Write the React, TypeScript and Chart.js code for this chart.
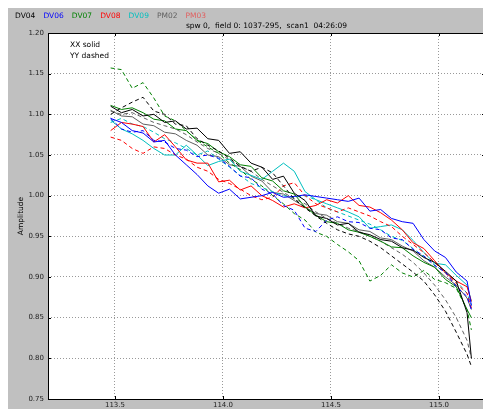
import { useEffect, useRef } from "react";
import { Chart, registerables } from "chart.js";
Chart.register(...registerables);

const freqs = [113.48, 113.53, 113.58, 113.63, 113.68, 113.73, 113.78, 113.83, 113.88, 113.93, 113.98, 114.03, 114.08, 114.13, 114.18, 114.23, 114.28, 114.33, 114.38, 114.43, 114.48, 114.53, 114.58, 114.63, 114.68, 114.73, 114.78, 114.83, 114.88, 114.93, 114.98, 115.03, 115.08, 115.13, 115.15];

const dv04XX = [1.110, 1.102, 1.106, 1.098, 1.100, 1.090, 1.092, 1.082, 1.083, 1.070, 1.068, 1.052, 1.054, 1.040, 1.035, 1.020, 1.024, 1.003, 0.994, 0.975, 0.972, 0.964, 0.966, 0.955, 0.952, 0.946, 0.944, 0.936, 0.933, 0.924, 0.918, 0.907, 0.895, 0.856, 0.800];
const dv04YY = [1.100, 1.108, 1.115, 1.121, 1.104, 1.100, 1.088, 1.086, 1.070, 1.062, 1.055, 1.046, 1.036, 1.030, 1.035, 1.028, 1.012, 0.996, 0.985, 0.975, 0.966, 0.958, 0.953, 0.950, 0.944, 0.936, 0.926, 0.916, 0.906, 0.895, 0.878, 0.858, 0.832, 0.805, 0.790];
const dv06XX = [1.095, 1.090, 1.080, 1.077, 1.066, 1.068, 1.050, 1.038, 1.026, 1.012, 1.003, 1.008, 0.996, 0.998, 1.000, 1.004, 0.998, 0.999, 1.001, 0.999, 0.997, 0.995, 0.993, 0.997, 0.981, 0.983, 0.972, 0.968, 0.966, 0.946, 0.932, 0.924, 0.906, 0.895, 0.865];
const dv06YY = [1.095, 1.082, 1.078, 1.080, 1.068, 1.066, 1.058, 1.056, 1.048, 1.050, 1.046, 1.036, 1.024, 1.022, 1.008, 1.002, 0.988, 0.982, 0.960, 0.956, 0.970, 0.974, 0.968, 0.967, 0.960, 0.958, 0.948, 0.946, 0.934, 0.926, 0.914, 0.906, 0.888, 0.876, 0.860];
const dv07XX = [1.111, 1.106, 1.108, 1.102, 1.094, 1.092, 1.082, 1.080, 1.068, 1.064, 1.054, 1.048, 1.038, 1.036, 1.022, 1.018, 1.006, 1.002, 0.986, 0.976, 0.968, 0.966, 0.958, 0.955, 0.950, 0.944, 0.937, 0.936, 0.926, 0.918, 0.912, 0.897, 0.888, 0.860, 0.850];
const dv07YY = [1.157, 1.155, 1.132, 1.139, 1.120, 1.098, 1.092, 1.080, 1.068, 1.060, 1.052, 1.040, 1.032, 1.020, 1.012, 1.000, 0.990, 0.978, 0.970, 0.955, 0.950, 0.940, 0.931, 0.920, 0.895, 0.902, 0.915, 0.905, 0.900, 0.908, 0.897, 0.893, 0.886, 0.860, 0.835];
const dv08XX = [1.080, 1.090, 1.088, 1.085, 1.066, 1.075, 1.060, 1.044, 1.040, 1.040, 1.017, 1.019, 1.007, 1.012, 1.000, 0.994, 0.986, 0.990, 0.985, 0.988, 0.995, 0.991, 1.000, 0.988, 0.986, 0.979, 0.970, 0.958, 0.942, 0.935, 0.920, 0.905, 0.895, 0.888, 0.870];
const dv08YY = [1.072, 1.068, 1.058, 1.052, 1.060, 1.058, 1.050, 1.045, 1.035, 1.030, 1.020, 1.015, 1.008, 1.000, 0.995, 0.998, 1.012, 1.016, 1.000, 0.990, 0.985, 0.980, 0.985, 0.980, 0.975, 0.968, 0.962, 0.950, 0.940, 0.930, 0.918, 0.905, 0.892, 0.880, 0.862];
const dv09XX = [1.093, 1.082, 1.076, 1.068, 1.058, 1.050, 1.050, 1.062, 1.050, 1.037, 1.042, 1.045, 1.030, 1.025, 1.020, 1.030, 1.040, 1.030, 1.005, 0.995, 0.990, 0.985, 0.980, 0.974, 0.960, 0.962, 0.964, 0.958, 0.945, 0.930, 0.917, 0.915, 0.902, 0.890, 0.870];
const dv09YY = [1.090, 1.095, 1.088, 1.085, 1.078, 1.070, 1.065, 1.058, 1.050, 1.055, 1.045, 1.035, 1.025, 1.015, 1.010, 1.005, 1.000, 0.998, 1.000, 0.995, 0.985, 0.980, 0.975, 0.970, 0.965, 0.958, 0.950, 0.945, 0.935, 0.925, 0.915, 0.905, 0.895, 0.880, 0.865];
const pm02XX = [1.105, 1.098, 1.097, 1.088, 1.086, 1.078, 1.076, 1.068, 1.062, 1.050, 1.048, 1.038, 1.036, 1.024, 1.018, 1.004, 1.002, 0.994, 0.986, 0.978, 0.976, 0.968, 0.966, 0.958, 0.956, 0.948, 0.946, 0.938, 0.932, 0.920, 0.912, 0.900, 0.890, 0.874, 0.860];
const pm02YY = [1.104, 1.100, 1.102, 1.096, 1.090, 1.086, 1.082, 1.075, 1.066, 1.058, 1.052, 1.044, 1.036, 1.030, 1.020, 1.012, 1.004, 0.996, 0.990, 0.980, 0.972, 0.966, 0.960, 0.956, 0.950, 0.944, 0.936, 0.928, 0.918, 0.905, 0.890, 0.872, 0.850, 0.822, 0.800];

const antennas = ["DV04", "DV06", "DV07", "DV08", "DV09", "PM02", "PM03"];
const antennaColors = ["#000000", "#0000ff", "#008000", "#ff0000", "#00bfbf", "#606060", "#e06060"];

const xTicks = [113.5, 114.0, 114.5, 115.0];
const yTicks = [0.75, 0.8, 0.85, 0.9, 0.95, 1.0, 1.05, 1.1, 1.15, 1.2];

const titleText = "spw 0,  field 0: 1037-295,  scan1  04:26:09";
const xTitle = "TOPO USB Frequency (GHz)";
const yTitle = "Amplitude";
const notes = ["XX solid", "YY dashed"];

const FONT = '"DejaVu Sans", sans-serif';

const seriesList = [
  { name: "DV04 XX", values: dv04XX, color: antennaColors[0], dashed: false },
  { name: "DV04 YY", values: dv04YY, color: antennaColors[0], dashed: true },
  { name: "DV06 XX", values: dv06XX, color: antennaColors[1], dashed: false },
  { name: "DV06 YY", values: dv06YY, color: antennaColors[1], dashed: true },
  { name: "DV07 XX", values: dv07XX, color: antennaColors[2], dashed: false },
  { name: "DV07 YY", values: dv07YY, color: antennaColors[2], dashed: true },
  { name: "DV08 XX", values: dv08XX, color: antennaColors[3], dashed: false },
  { name: "DV08 YY", values: dv08YY, color: antennaColors[3], dashed: true },
  { name: "DV09 XX", values: dv09XX, color: antennaColors[4], dashed: false },
  { name: "DV09 YY", values: dv09YY, color: antennaColors[4], dashed: true },
  { name: "PM02 XX", values: pm02XX, color: antennaColors[5], dashed: false },
  { name: "PM02 YY", values: pm02YY, color: antennaColors[5], dashed: true },
];

const framePlugin = {
  id: "frameText",
  beforeDraw(chart: any) {
    const { ctx, chartArea } = chart;
    const { left, top, right, bottom } = chartArea;
    ctx.save();
    ctx.fillStyle = "#ffffff";
    ctx.fillRect(left, top, right - left, bottom - top);
    ctx.restore();
  },
  afterDraw(chart: any) {
    const { ctx, chartArea } = chart;
    const { left, top, right, bottom } = chartArea;
    const xs = chart.scales.x;
    const ys = chart.scales.y;
    ctx.save();
    ctx.strokeStyle = "#000";
    ctx.lineWidth = 1;
    ctx.beginPath();
    xTicks.forEach((v) => {
      const px = Math.round(xs.getPixelForValue(v)) + 0.5;
      ctx.moveTo(px, top);
      ctx.lineTo(px, top + 3);
      ctx.moveTo(px, bottom);
      ctx.lineTo(px, bottom - 3);
    });
    yTicks.forEach((v) => {
      const py = Math.round(ys.getPixelForValue(v)) + 0.5;
      ctx.moveTo(left, py);
      ctx.lineTo(left + 3, py);
      ctx.moveTo(right, py);
      ctx.lineTo(right - 3, py);
    });
    ctx.stroke();
    ctx.strokeRect(Math.round(left) + 0.5, Math.round(top) + 0.5, Math.round(right - left), Math.round(bottom - top));

    ctx.font = `7.5px ${FONT}`;
    ctx.textBaseline = "middle";
    ctx.textAlign = "left";
    antennas.forEach((a, i) => {
      ctx.fillStyle = antennaColors[i];
      ctx.fillText(a, 7 + i * 28.4, 7.7);
    });
    ctx.fillStyle = "#000";
    ctx.textAlign = "center";
    ctx.fillText(titleText, (left + right) / 2, 18);
    ctx.textAlign = "left";
    ctx.fillText(notes[0], left + 22, top + 12.5);
    ctx.fillText(notes[1], left + 22, top + 23);
    ctx.textAlign = "center";
    ctx.fillText(xTitle, (left + right) / 2, bottom + 14);
    ctx.translate(13, (top + bottom) / 2);
    ctx.rotate(-Math.PI / 2);
    ctx.fillText(yTitle, 0, 0);
    ctx.restore();
  },
};

export default function App() {
  const canvasRef = useRef<HTMLCanvasElement | null>(null);

  useEffect(() => {
    document.body.style.overflow = "hidden";
    const canvas = canvasRef.current;
    if (!canvas) return;
    const chart = new Chart(canvas, {
      type: "line",
      data: {
        datasets: seriesList.map((s) => ({
          label: s.name,
          data: freqs.map((f, i) => ({ x: f, y: s.values[i] })),
          borderColor: s.color,
          backgroundColor: s.color,
          borderWidth: 1,
          borderDash: s.dashed ? [4, 3] : [],
          pointRadius: 0,
          tension: 0,
          fill: false,
        })),
      },
      options: {
        animation: false,
        responsive: true,
        maintainAspectRatio: false,
        layout: { padding: { top: 25, right: 6, bottom: 0, left: 0 } },
        plugins: {
          legend: { display: false },
          title: { display: false },
          tooltip: { enabled: false },
        },
        scales: {
          x: {
            type: "linear",
            min: 113.19,
            max: 115.213,
            afterBuildTicks: (scale: any) => {
              scale.ticks = xTicks.map((v) => ({ value: v }));
            },
            afterFit: (scale: any) => {
              scale.height = 18;
            },
            grid: { color: "#999999", drawTicks: false, lineWidth: 1 },
            border: { display: false, dash: [1, 2] },
            ticks: {
              padding: 2,
              autoSkip: false,
              maxRotation: 0,
              color: "#222",
              font: { family: FONT, size: 7 },
              callback: (v: any) => Number(v).toFixed(1),
            },
          },
          y: {
            type: "linear",
            min: 0.75,
            max: 1.2,
            afterBuildTicks: (scale: any) => {
              scale.ticks = yTicks.map((v) => ({ value: v }));
            },
            afterFit: (scale: any) => {
              scale.width = 40;
            },
            grid: { color: "#999999", drawTicks: false, lineWidth: 1 },
            border: { display: false, dash: [1, 2] },
            ticks: {
              padding: 4,
              autoSkip: false,
              color: "#222",
              font: { family: FONT, size: 7 },
              callback: (v: any) => Number(v).toFixed(2),
            },
          },
        },
      },
      plugins: [framePlugin],
    });
    return () => chart.destroy();
  }, []);

  return (
    <div style={{ position: "relative", width: 483, height: 409, marginBottom: -8, background: "#c0c0c0" }}>
      <canvas ref={canvasRef} />
    </div>
  );
}
